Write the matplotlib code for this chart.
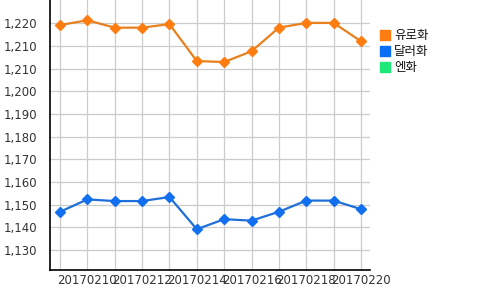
import matplotlib
matplotlib.use("Agg")
import matplotlib.pyplot as plt
from matplotlib.patches import Rectangle

plt.rcParams['font.family'] = ['DejaVu Sans', 'Noto Sans CJK KR']

dates = ["20170209", "20170210", "20170211", "20170212", "20170213", "20170214",
         "20170215", "20170216", "20170217", "20170218", "20170219", "20170220"]
euro = [1223.3, 1225.3, 1222.2, 1222.2, 1223.7, 1208.2,
        1207.8, 1212.3, 1222.2, 1224.2, 1224.2, 1216.5]
dollar = [1145.0, 1150.2, 1149.5, 1149.5, 1151.2, 1137.7,
          1141.9, 1141.3, 1145.0, 1149.7, 1149.7, 1146.1]
series_names = ["유로화", "달러화", "엔화"]
y_ticks = [1129 + 9.5 * k for k in range(11)]
y_tick_labels = ["1,130", "1,140", "1,150", "1,160", "1,170", "1,180",
                 "1,190", "1,200", "1,210", "1,210", "1,220"]

W, H = 500, 290
fig = plt.figure(figsize=(W / 100, H / 100), dpi=100)
ax = fig.add_axes([50 / W, 20 / H, 320 / W, 270 / H])

x = list(range(len(dates)))
ax.plot(x, euro, color="#e8801e", lw=1.6, marker="D", ms=5.2,
        mfc="#ff7c10", mec="#ff7c10", zorder=3)
ax.plot(x, dollar, color="#1f6fd8", lw=1.6, marker="D", ms=5.2,
        mfc="#1270f0", mec="#1270f0", zorder=3)

ax.set_xlim(-0.365, 11.33)
ax.set_ylim(1120.6, 1233.8)
ax.set_xticks(x)
ax.set_xticklabels([d if i % 2 == 1 else "" for i, d in enumerate(dates)])
ax.set_yticks(y_ticks)
ax.set_yticklabels(y_tick_labels)
ax.tick_params(axis="both", length=0, labelsize=8.5, colors="#333333")
ax.tick_params(axis="y", pad=9)
ax.tick_params(axis="x", pad=3)
ax.grid(True, color="#cccccc", lw=0.9)
ax.set_axisbelow(True)
for s in ["top", "right"]:
    ax.spines[s].set_visible(False)
for s in ["left", "bottom"]:
    ax.spines[s].set_color("black")
    ax.spines[s].set_linewidth(1.2)

legend_colors = ["#ff7c10", "#0a6ef5", "#1ee878"]
for i, (name, c) in enumerate(zip(series_names, legend_colors)):
    yc = 35 + 16 * i
    fig.patches.append(Rectangle((380 / W, 1 - (yc + 5) / H), 10 / W, 10 / H,
                                 transform=fig.transFigure, color=c))
    fig.text(394 / W, 1 - yc / H, name, fontsize=9, va="center", ha="left",
             family=["Noto Sans CJK KR", "DejaVu Sans"], color="#111111")

fig.savefig("out.png", dpi=100)
